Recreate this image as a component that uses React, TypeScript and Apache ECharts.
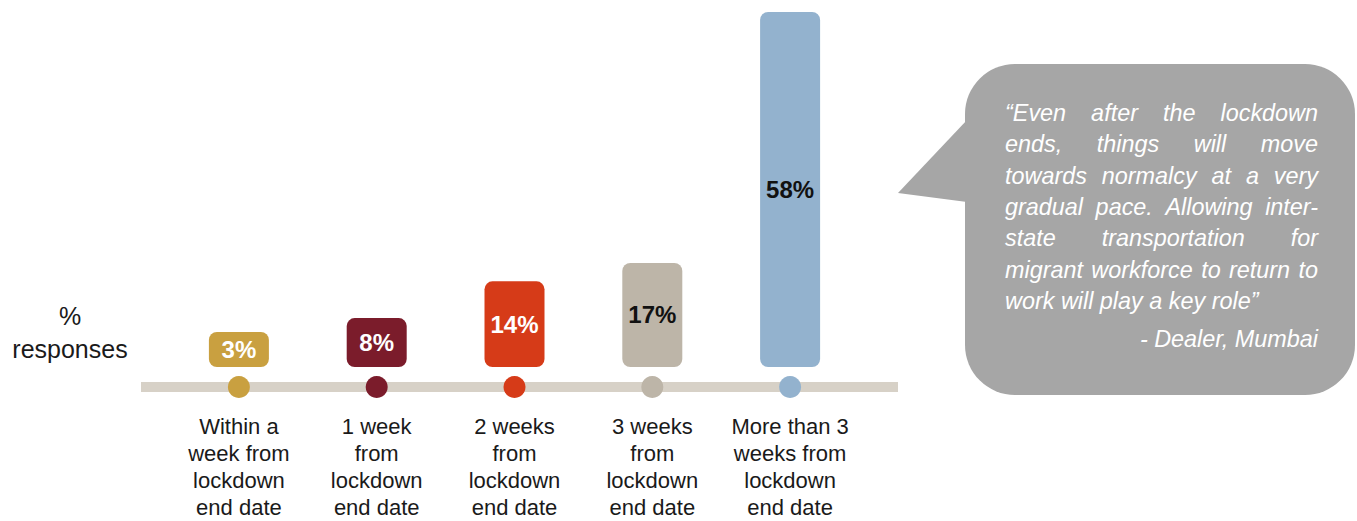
import React, { useEffect, useRef } from "react";
import * as echarts from "echarts";

const categories = [
  "Within a\nweek from\nlockdown\nend date",
  "1 week\nfrom\nlockdown\nend date",
  "2 weeks\nfrom\nlockdown\nend date",
  "3 weeks\nfrom\nlockdown\nend date",
  "More than 3\nweeks from\nlockdown\nend date",
];
const values = [3, 8, 14, 17, 58];
const barColors = ["#c9a040", "#7b1c2b", "#d63b18", "#bdb5a8", "#93b2ce"];
const labelColors = ["#ffffff", "#ffffff", "#ffffff", "#111111", "#111111"];
const axisTitleLines = ["%", "responses"];
const quoteLines = [
  "\u201cEven after the lockdown",
  "ends, things will move",
  "towards normalcy at a very",
  "gradual pace. Allowing inter-",
  "state transportation for",
  "migrant workforce to return to",
  "work will play a key role\u201d",
];
const quoteAuthor = "- Dealer, Mumbai";

const FONT = "'Liberation Sans', Arial, Helvetica, sans-serif";
const QUOTE_SIZE = 23.4;
const QUOTE_LEFT = 1005;
const QUOTE_RIGHT = 1318;
const QUOTE_TOP = 113;
const QUOTE_STEP = 31.3;
const BUBBLE_FILL = "#a6a6a6";
const dotLevel = 0.5;

function buildQuote(): any[] {
  const els: any[] = [];
  const canvas = document.createElement("canvas");
  const ctx = canvas.getContext("2d")!;
  ctx.font = `italic ${QUOTE_SIZE}px 'Liberation Sans'`;
  const W = QUOTE_RIGHT - QUOTE_LEFT;
  const baseStyle = {
    fill: "#ffffff",
    fontSize: QUOTE_SIZE,
    fontStyle: "italic",
    fontFamily: FONT,
    verticalAlign: "middle",
    textVerticalAlign: "middle",
  };
  quoteLines.forEach((line, i) => {
    const y = QUOTE_TOP + i * QUOTE_STEP;
    const justify = i < quoteLines.length - 1;
    if (!justify) {
      els.push({
        type: "text",
        x: QUOTE_LEFT,
        y,
        z: 10,
        style: { ...baseStyle, text: line, align: "left", textAlign: "left" },
      });
      return;
    }
    const words = line.split(" ");
    const widths = words.map((w) => ctx.measureText(w).width);
    const sum = widths.reduce((a, b) => a + b, 0);
    const gap = words.length > 1 ? (W - sum) / (words.length - 1) : 0;
    let x = QUOTE_LEFT;
    words.forEach((w, k) => {
      els.push({
        type: "text",
        x,
        y,
        z: 10,
        style: { ...baseStyle, text: w, align: "left", textAlign: "left" },
      });
      x += widths[k] + gap;
    });
  });
  els.push({
    type: "text",
    x: QUOTE_RIGHT,
    y: 339,
    z: 10,
    style: { ...baseStyle, text: quoteAuthor, align: "right", textAlign: "right" },
  });
  return els;
}

export default function App() {
  const ref = useRef<HTMLDivElement>(null);
  useEffect(() => {
    if (!ref.current) return;
    const chart = echarts.init(ref.current, undefined, { renderer: "svg" });
    const graphic: any[] = [
      {
        type: "rect",
        z: 0,
        shape: { x: 141, y: 382, width: 757, height: 10 },
        style: { fill: "#d7d1c7" },
      },
      ...axisTitleLines.map((t, i) => ({
        type: "text",
        x: 70,
        y: 316 + i * 33,
        style: {
          text: t,
          fill: "#1a1a1a",
          fontSize: 25,
          fontFamily: FONT,
          align: "center",
          textAlign: "center",
          verticalAlign: "middle",
          textVerticalAlign: "middle",
        },
      })),
      {
        type: "rect",
        z: 1,
        shape: { x: 965, y: 64, width: 390, height: 331, r: 50 },
        style: { fill: BUBBLE_FILL },
      },
      {
        type: "polygon",
        z: 1,
        shape: { points: [[967, 120], [898, 193], [967, 202]] },
        style: { fill: BUBBLE_FILL },
      },
      ...buildQuote(),
    ];
    const option: any = {
      animation: false,
      backgroundColor: "#ffffff",
      grid: [
        { left: 170, right: 498, top: 12, bottom: 154, outerBoundsMode: "none", containLabel: false },
        { left: 170, right: 498, top: 377, height: 20, outerBoundsMode: "none", containLabel: false },
      ],
      xAxis: [
        {
          type: "category",
          gridIndex: 0,
          data: categories,
          axisLine: { show: false },
          axisTick: { show: false },
          splitLine: { show: false },
          axisLabel: {
            interval: 0,
            margin: 46,
            fontSize: 22,
            lineHeight: 27,
            color: "#1a1a1a",
            fontFamily: FONT,
          },
        },
        { type: "category", gridIndex: 1, data: categories, show: false },
      ],
      yAxis: [
        { type: "value", gridIndex: 0, min: 0, max: "dataMax", show: false },
        { type: "value", gridIndex: 1, min: 0, max: 1, show: false },
      ],
      series: [
        {
          type: "bar",
          xAxisIndex: 0,
          yAxisIndex: 0,
          barWidth: 60,
          barMinHeight: 35,
          itemStyle: { borderRadius: 8 },
          label: {
            show: true,
            position: "inside",
            formatter: "{c}%",
            fontSize: 24,
            fontWeight: "bold",
            fontFamily: FONT,
            textBorderWidth: 0,
          },
          data: values.map((v, i) => ({
            value: v,
            itemStyle: { color: barColors[i] },
            label: { color: labelColors[i] },
          })),
        },
        {
          type: "scatter",
          xAxisIndex: 1,
          yAxisIndex: 1,
          symbolSize: 22,
          itemStyle: { opacity: 1 },
          data: values.map((_, i) => ({
            value: [i, dotLevel],
            itemStyle: { color: barColors[i], opacity: 1 },
          })),
        },
      ],
      graphic,
    };
    chart.setOption(option);
    return () => chart.dispose();
  }, []);
  return (
    <div
      ref={ref}
      style={{ position: "absolute", left: 0, top: 0, width: 1357, height: 521, background: "#fff" }}
    />
  );
}
